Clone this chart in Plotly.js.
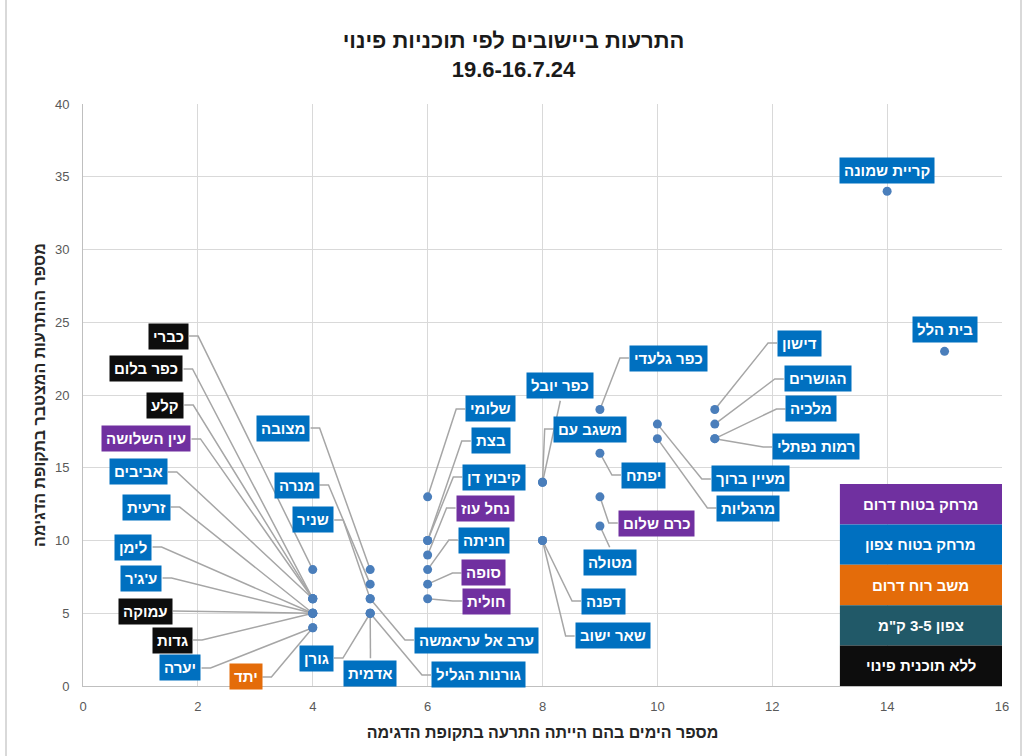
<!DOCTYPE html>
<html>
<head>
<meta charset="utf-8">
<script src="https://cdn.plot.ly/plotly-3.0.1.min.js"></script>
<style>
html,body{margin:0;padding:0;background:#fff;}
#chart{width:1027px;height:756px;}
</style>
</head>
<body>
<div id="chart"></div>
<script>
// ---- data ----
const settlements = ["כברי","כפר בלום","קלע","עין השלושה","אביבים","זרעית","לימן","ע'ג'ר","עמוקה","גדות","יערה","יתד",
  "מצובה","מנרה","שניר","גורן","אדמית","ערב אל עראמשה","גורנות הגליל",
  "שלומי","בצת","קיבוץ דן","נחל עוז","חניתה","סופה","חולית",
  "כפר יובל","משגב עם","דפנה","שאר ישוב",
  "כפר גלעדי","יפתח","כרם שלום","מטולה",
  "מעיין ברוך","מרגליות",
  "דישון","הגושרים","מלכיה","רמות נפתלי",
  "קריית שמונה","בית הלל"];
const alertDays = [4,4,4,4,4,4,4,4,4,4,4,4,
  5,5,5,5,5,5,5,
  6,6,6,6,6,6,6,
  8,8,8,8,
  9,9,9,9,
  10,10,
  11,11,11,11,
  14,15];
const alertCount = [8,6,6,6,6,5,5,5,5,5,4,4,
  8,7,6,5,5,6,5,
  13,10,10,9,8,7,6,
  14,14,10,10,
  19,16,13,11,
  18,17,
  19,18,17,17,
  34,23];
const planType = ["none","none","none","south","north","north","north","north","none","none","north","wind",
  "north","north","north","north","north","north","north",
  "north","north","north","south","north","south","south",
  "north","north","north","north",
  "north","north","south","north",
  "north","north",
  "north","north","north","north",
  "north","north"];
const planNames = ["מרחק בטוח דרום","מרחק בטוח צפון","משב רוח דרום","צפון 3-5 ק\"מ","ללא תוכנית פינוי"];
const planKeys = ["south","north","wind","near","none"];

// ---- layout / style (label placement, not data) ----
const labelX = [1.49,1.105,1.436,1.105,0.966,1.105,0.879,1.018,1.088,1.558,1.697,2.83,
  3.49,3.72,4.01,4.065,5.005,6.85,6.885,
  7.095,7.095,7.16,7.0,6.98,6.98,7.02,
  8.31,8.835,9.06,9.22,
  10.19,9.76,9.985,9.17,
  11.62,11.585,
  12.47,12.79,12.68,12.77,
  14.0,15.01];
const labelY = [24.05,21.79,19.31,16.98,14.71,12.3,9.55,7.42,5.15,3.16,1.24,0.62,
  17.73,13.81,11.41,1.92,0.89,3.16,0.76,
  19.04,16.84,14.36,12.23,10.03,7.77,5.84,
  20.62,17.66,5.84,3.44,
  22.54,14.5,11.2,8.52,
  14.23,12.23,
  23.57,21.1,19.04,16.43,
  35.46,24.47];
const planColor = {south:"#7030A0", north:"#0070C0", wind:"#E46C0A", near:"#215968", none:"#0D0D0D"};
const FONT = "Liberation Sans, Arial, sans-serif";
const LABEL_SIZE = 15, PAD = 4;

const M = {l: 83, r: 25, t: 104, b: 70};
const W = 1027, H = 756;
const X_RANGE = [0, 16], Y_RANGE = [0, 40];
const pxPerX = (W - M.l - M.r) / (X_RANGE[1] - X_RANGE[0]);
const pxPerY = (H - M.t - M.b) / (Y_RANGE[1] - Y_RANGE[0]);

// measure label widths to attach leader lines to label sides
const ctx = document.createElement("canvas").getContext("2d");
ctx.font = "bold " + LABEL_SIZE + "px 'Liberation Sans'";
const halfH = (LABEL_SIZE * 1.3 / 2 + PAD + 1) / pxPerY;
const stub = 9 / pxPerX;

const lx = [], ly = [];
settlements.forEach((n, i) => {
  const px = alertDays[i], py = alertCount[i];
  const cx = labelX[i], cy = labelY[i];
  const halfW = (ctx.measureText(n).width / 2 + PAD + 1) / pxPerX;
  if (Math.abs(cx - px) <= halfW) {
    const ey = cy > py ? cy - halfH : cy + halfH;
    const gapPx = Math.abs(ey - py) * pxPerY;
    if (gapPx > 12) { lx.push(px, cx, null); ly.push(py, ey, null); }
  } else {
    const dir = cx < px ? 1 : -1;
    const ex = cx + dir * halfW;
    lx.push(px, ex + dir * stub, ex, null);
    ly.push(py, cy, cy, null);
  }
});

const leaders = {
  type: "scatter", mode: "lines", x: lx, y: ly,
  line: {color: "#A6A6A6", width: 1.5}, hoverinfo: "skip", showlegend: false
};
const points = {
  type: "scatter", mode: "markers",
  x: alertDays, y: alertCount, text: settlements,
  marker: {color: "#4A7EBB", size: 9},
  hoverinfo: "text+x+y", showlegend: false
};

const annotations = settlements.map((n, i) => ({
  x: labelX[i], y: labelY[i], xref: "x", yref: "y",
  xanchor: "center", yanchor: "middle",
  text: "<b>" + n + "</b>", showarrow: false,
  bgcolor: planColor[planType[i]], borderpad: PAD,
  font: {family: FONT, size: LABEL_SIZE, color: "#FFFFFF"}
}));

// legend boxes
const shapes = [];
const legX0 = 0.8236, legX1 = 1.0, legTop = 0.347, legH = 0.0694;
planKeys.forEach((k, i) => {
  const y1 = legTop - i * legH, y0 = (i === planKeys.length - 1) ? 0 : legTop - (i + 1) * legH;
  shapes.push({type: "rect", xref: "paper", yref: "paper", x0: legX0, x1: legX1, y0: y0, y1: y1,
    fillcolor: planColor[k], line: {width: 0}, layer: "above"});
  annotations.push({xref: "paper", yref: "paper", x: (legX0 + legX1) / 2, y: (y0 + y1) / 2,
    xanchor: "center", yanchor: "middle",
    text: "<b>" + planNames[i] + "</b>", showarrow: false,
    font: {family: FONT, size: 15, color: "#FFFFFF"}});
});
// outer chart border
shapes.push({type: "rect", xref: "paper", yref: "paper", x0: -0.0838, x1: 1.0207, y0: -0.3, y1: 1.3,
  line: {color: "#D9D9D9", width: 2}, fillcolor: "rgba(0,0,0,0)", layer: "below"});

const layout = {
  width: W, height: H, margin: M,
  paper_bgcolor: "#FFFFFF", plot_bgcolor: "#FFFFFF",
  title: {text: "<b>התרעות ביישובים לפי תוכניות פינוי<br>19.6-16.7.24</b>",
    x: 0.5, xanchor: "center", y: 0.936, yanchor: "top",
    font: {family: FONT, size: 22, color: "#1A1A1A"}},
  xaxis: {range: X_RANGE, dtick: 2, tick0: 0, showgrid: true, gridcolor: "#D9D9D9", gridwidth: 1,
    zeroline: false, showline: true, linecolor: "#BFBFBF", linewidth: 1,
    ticks: "outside", ticklen: 8, tickcolor: "rgba(0,0,0,0)",
    tickfont: {family: FONT, size: 13, color: "#595959"},
    title: {text: "<b>מספר הימים בהם הייתה התרעה בתקופת הדגימה</b>", standoff: 14,
      font: {family: FONT, size: 16, color: "#262626"}}},
  yaxis: {range: Y_RANGE, dtick: 5, tick0: 0, showgrid: true, gridcolor: "#D9D9D9", gridwidth: 1,
    zeroline: false, showline: true, linecolor: "#BFBFBF", linewidth: 1,
    ticks: "outside", ticklen: 10, tickcolor: "rgba(0,0,0,0)",
    tickfont: {family: FONT, size: 13, color: "#595959"},
    title: {text: "<b>מספר ההתרעות המצטבר בתקופת הדגימה</b>", standoff: 5,
      font: {family: FONT, size: 16, color: "#262626"}}},
  annotations: annotations,
  shapes: shapes
};

Plotly.newPlot("chart", [leaders, points], layout, {displayModeBar: false, staticPlot: true});
</script>
</body>
</html>
